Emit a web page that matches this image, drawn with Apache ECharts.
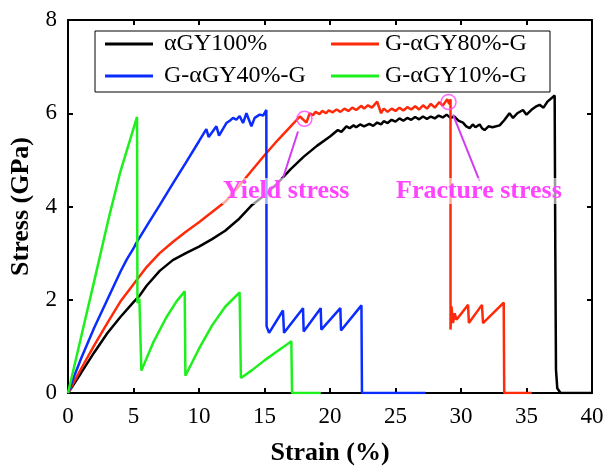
<!DOCTYPE html>
<html>
<head>
<meta charset="utf-8">
<script src="https://cdn.jsdelivr.net/npm/echarts@6/dist/echarts.min.js"></script>
<style>html,body{margin:0;padding:0;background:#fff}#c{width:604px;height:466px}</style>
</head>
<body>
<div id="c"></div>
<script>
var seriesNames = ['αGY100%', 'G-αGY40%-G', 'G-αGY80%-G', 'G-αGY10%-G'];
var xTicks = [0, 5, 10, 15, 20, 25, 30, 35, 40];
var yTicks = [0, 2, 4, 6, 8];

var black100 = [[0,0],[1,0.43],[2,0.87],[3,1.28],[4,1.63],[5,1.95],[5.5,2.1],[6,2.3],[7,2.62],[8,2.85],[9,3.0],[10,3.14],[11,3.3],[12,3.48],[13,3.72],[14,4.02],[15,4.24],[16,4.5],[17,4.8],[18,5.07],[19,5.3],[20,5.5],[20.6,5.64],[20.87,5.6],[21.25,5.72],[21.5,5.68],[21.8,5.74],[22.0,5.7],[22.3,5.76],[22.6,5.72],[23.0,5.77],[23.3,5.73],[23.6,5.8],[23.9,5.76],[24.1,5.83],[24.4,5.79],[24.7,5.86],[25.0,5.82],[25.3,5.89],[25.6,5.84],[25.9,5.9],[26.2,5.86],[26.5,5.92],[26.8,5.87],[27.1,5.93],[27.4,5.88],[27.7,5.93],[28.0,5.89],[28.3,5.95],[28.6,5.91],[28.9,5.97],[29.2,5.9],[29.5,5.93],[29.8,5.84],[30.15,5.8],[30.4,5.72],[30.66,5.68],[30.9,5.76],[31.1,5.7],[31.42,5.76],[31.6,5.68],[31.8,5.64],[32.1,5.72],[32.4,5.7],[32.95,5.74],[33.3,5.85],[33.7,6.0],[33.97,5.9],[34.3,6.0],[34.73,6.07],[35.0,5.97],[35.4,6.08],[35.7,6.14],[36.0,6.18],[36.3,6.12],[36.6,6.25],[37.15,6.38],[37.2,3.0],[37.25,0.5],[37.35,0.1],[37.6,0],[40,0]];

var blue40 = [[0,0],[0.5,0.38],[1,0.74],[2,1.4],[3,2.0],[4,2.6],[4.5,2.87],[5,3.1],[5.22,3.22],[6,3.58],[7,4.03],[8,4.49],[9,4.94],[10,5.4],[10.56,5.66],[10.74,5.49],[11.33,5.72],[11.53,5.52],[12.09,5.79],[12.35,5.84],[12.6,5.9],[12.85,5.86],[13.1,5.94],[13.36,5.79],[13.62,6.0],[14.0,5.72],[14.25,5.9],[14.63,5.97],[14.9,5.95],[15.14,6.07],[15.16,1.43],[15.35,1.29],[16.41,1.77],[16.49,1.29],[17.94,1.82],[17.99,1.32],[19.29,1.82],[19.34,1.36],[20.79,1.82],[20.84,1.34],[22.4,1.88],[22.44,0],[27.3,0]];

var red80 = [[0,0],[1,0.52],[2,1.02],[3,1.5],[4,1.96],[5,2.33],[6,2.7],[7,3.0],[8,3.24],[9,3.46],[10,3.66],[11,3.88],[12,4.1],[13,4.42],[14,4.76],[15,5.1],[16,5.42],[17,5.72],[17.7,5.93],[18.2,5.8],[18.45,6.0],[18.7,5.96],[18.9,6.03],[19.2,5.98],[19.4,6.05],[19.7,6.0],[19.9,6.06],[20.2,6.02],[20.5,6.08],[20.8,6.03],[21.1,6.1],[21.4,6.05],[21.7,6.12],[22.0,6.07],[22.4,6.16],[22.6,6.1],[22.9,6.17],[23.2,6.12],[23.6,6.25],[23.9,6.0],[24.1,6.1],[24.4,6.03],[24.7,6.1],[25.0,6.05],[25.3,6.12],[25.6,6.06],[25.9,6.13],[26.2,6.08],[26.5,6.15],[26.8,6.08],[27.1,6.17],[27.4,6.1],[27.7,6.2],[28.0,6.12],[28.35,6.24],[28.6,6.16],[28.95,6.3],[29.1,6.2],[29.2,6.3],[29.2,1.36],[29.27,1.86],[29.39,1.5],[29.52,1.71],[29.65,1.57],[30.54,1.89],[30.6,1.5],[31.6,1.89],[31.68,1.5],[33.26,1.94],[33.3,0],[35.4,0]];

var green10 = [[0,0],[1,1.2],[2,2.4],[3.05,3.68],[4,4.75],[5.27,5.92],[5.3,1.93],[5.38,1.95],[5.45,2.02],[5.55,2.0],[5.6,0.48],[6.5,1.08],[7.5,1.62],[8.3,1.97],[8.91,2.18],[8.96,0.37],[10,0.95],[11,1.45],[12,1.85],[13.1,2.16],[13.2,0.32],[14,0.48],[15,0.7],[16,0.9],[16.6,1.02],[17.05,1.11],[17.1,0],[19.3,0]];

var yieldPoint = [[18.05, 5.88]];
var fracturePoint = [[29.05, 6.24]];
var yieldPointer = [[17.56, 5.61], [16.41, 4.61]];
var fracturePointer = [[29.39, 5.97], [31.43, 4.54]];

var colors = ['#000000', '#0a2cff', '#ff2a0a', '#1ef01e'];
var magenta = '#ff44ff';
var FONT = 'Liberation Serif';

var chart = echarts.init(document.getElementById('c'), null, {renderer: 'canvas'});

function lineSeries(name, data, color) {
  return {name: name, type: 'line', data: data, showSymbol: false, symbol: 'none',
    lineStyle: {color: color, width: 2.5}, itemStyle: {color: color}, z: 3, animation: false};
}

var axisCommon = {
  axisLine: {show: true, onZero: false, lineStyle: {color: '#000', width: 2}},
  axisTick: {show: true, inside: true, length: 5, lineStyle: {color: '#000', width: 2}},
  splitLine: {show: false}
};

var option = {
  animation: false,
  backgroundColor: '#fff',
  textStyle: {fontFamily: FONT},
  grid: {left: 68, right: 12, top: 20, bottom: 73, show: false, outerBoundsMode: 'none', containLabel: false},
  xAxis: [
    Object.assign({type: 'value', min: 0, max: 40, interval: 5, position: 'bottom',
      name: 'Strain (%)', nameLocation: 'middle', nameGap: 47,
      nameTextStyle: {fontFamily: FONT, fontSize: 26, fontWeight: 'bold', color: '#000'},
      axisLabel: {fontFamily: FONT, fontSize: 23, color: '#000', margin: 12,
        formatter: function (v) { return xTicks.indexOf(v) >= 0 ? String(v) : ''; }}}, axisCommon),
    Object.assign({type: 'value', min: 0, max: 40, interval: 5, position: 'top',
      axisLabel: {show: false}}, axisCommon)
  ],
  yAxis: [
    Object.assign({type: 'value', min: 0, max: 8, interval: 2, position: 'left',
      name: 'Stress (GPa)', nameLocation: 'middle', nameGap: 28,
      nameTextStyle: {fontFamily: FONT, fontSize: 26, fontWeight: 'bold', color: '#000'},
      axisLabel: {fontFamily: FONT, fontSize: 23, color: '#000', margin: 11,
        formatter: function (v) { return yTicks.indexOf(v) >= 0 ? String(v) : ''; }}}, axisCommon),
    Object.assign({type: 'value', min: 0, max: 8, interval: 2, position: 'right',
      axisLabel: {show: false}}, axisCommon)
  ],
  legend: [
    {data: [seriesNames[0], seriesNames[1]], orient: 'vertical', left: 105, top: 32, padding: 0,
      itemGap: 8, itemWidth: 48, itemHeight: 3, icon: 'rect', z: 10,
      textStyle: {fontFamily: FONT, fontSize: 24, color: '#000', padding: [0, 0, 0, 6]}},
    {data: [seriesNames[2], seriesNames[3]], orient: 'vertical', left: 331, top: 32, padding: 0,
      itemGap: 8, itemWidth: 48, itemHeight: 3, icon: 'rect', z: 10,
      textStyle: {fontFamily: FONT, fontSize: 24, color: '#000', padding: [0, 0, 0, 1]}}
  ],
  graphic: [
    {type: 'rect', z: 8, shape: {x: 95, y: 31, width: 455, height: 61},
      style: {fill: '#fff', stroke: '#000', lineWidth: 1}},
    {type: 'rect', z: 8, shape: {x: 222, y: 178, width: 131, height: 26},
      style: {fill: 'rgba(255,255,255,0.6)'}},
    {type: 'rect', z: 8, shape: {x: 395, y: 178, width: 172, height: 26},
      style: {fill: 'rgba(255,255,255,0.6)'}},
    {type: 'text', z: 9, left: 223, top: 178,
      style: {text: 'Yield stress', fill: magenta, font: 'bold 26px "Liberation Serif"'}},
    {type: 'text', z: 9, left: 396, top: 178,
      style: {text: 'Fracture stress', fill: magenta, font: 'bold 26px "Liberation Serif"'}}
  ],
  series: [
    lineSeries(seriesNames[0], black100, colors[0]),
    lineSeries(seriesNames[2], red80, colors[2]),
    lineSeries(seriesNames[1], blue40, colors[1]),
    lineSeries(seriesNames[3], green10, colors[3]),
    {type: 'line', data: yieldPointer, showSymbol: false, symbol: 'none', z: 4,
      lineStyle: {color: '#d23cf0', width: 2}, silent: true},
    {type: 'line', data: fracturePointer, showSymbol: false, symbol: 'none', z: 4,
      lineStyle: {color: '#d23cf0', width: 2}, silent: true},
    {type: 'scatter', data: yieldPoint.concat(fracturePoint), symbol: 'circle', symbolSize: 15, z: 5,
      itemStyle: {color: 'rgba(0,0,0,0)', borderColor: magenta, borderWidth: 1.5}, silent: true}
  ]
};
chart.setOption(option);
</script>
</body>
</html>
